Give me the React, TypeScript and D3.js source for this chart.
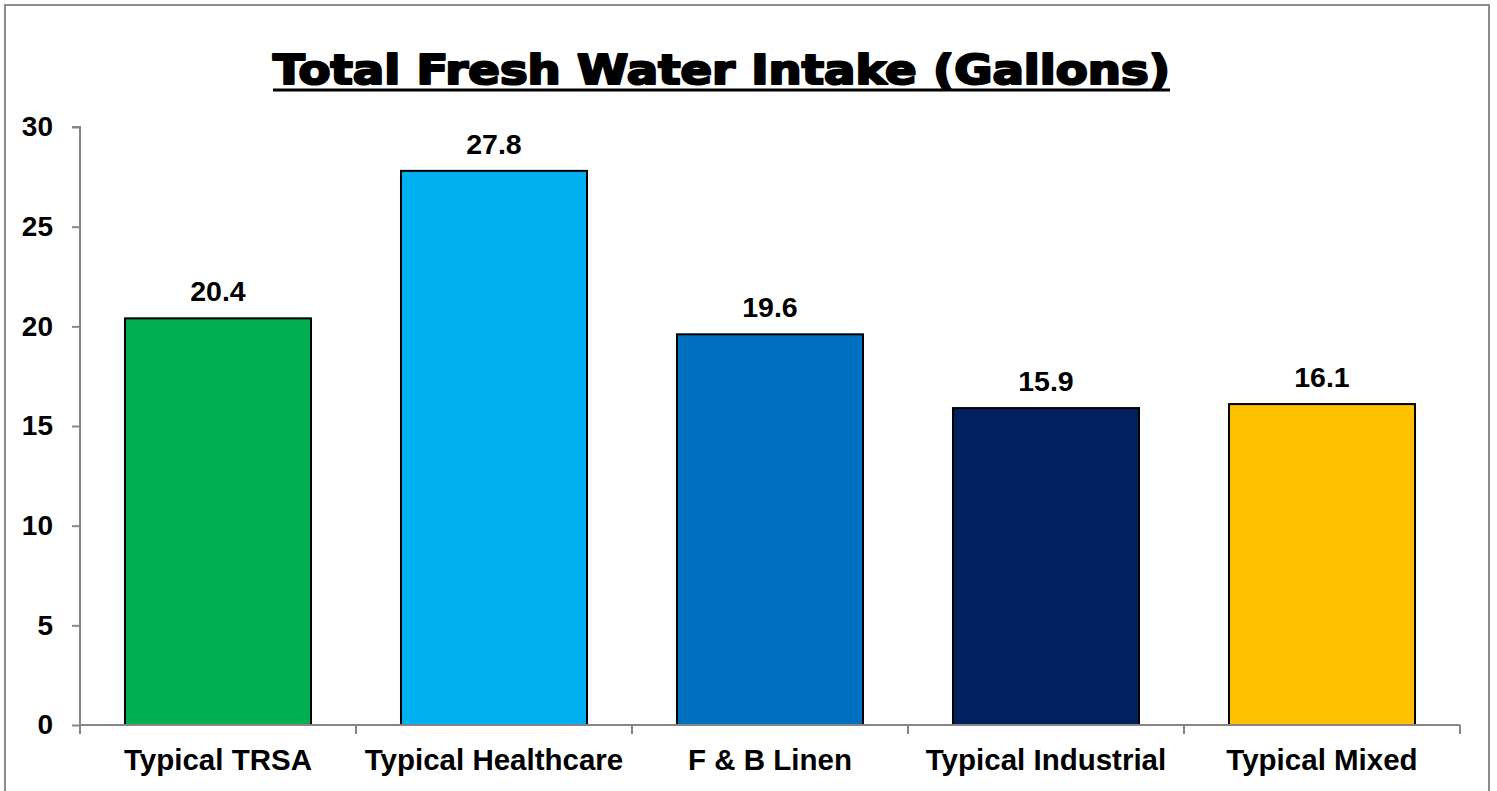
import { useRef, useEffect } from "react";
import * as d3 from "d3";

const categories = ["Typical TRSA", "Typical Healthcare", "F & B Linen", "Typical Industrial", "Typical Mixed"];
const values = [20.4, 27.8, 19.6, 15.9, 16.1];
const colors = ["#00B050", "#00B0F0", "#0070C0", "#002060", "#FFC000"];
const yTicks = [0, 5, 10, 15, 20, 25, 30];
const title = "Total Fresh Water Intake (Gallons)";

const WIDTH = 1497;
const HEIGHT = 791;
const PLOT = { left: 80, right: 1460, top: 127, bottom: 725 };
const FONT = "Liberation Sans, Arial, sans-serif";
const AXIS_COLOR = "#868686";

export default function App() {
  const svgRef = useRef<SVGSVGElement>(null);

  useEffect(() => {
    const svg = d3.select(svgRef.current);
    svg.selectAll("*").remove();

    // chart frame
    svg.append("rect")
      .attr("x", 5).attr("y", 5)
      .attr("width", 1484).attr("height", 800)
      .attr("fill", "#fff")
      .attr("stroke", "#8c8c8c")
      .attr("stroke-width", 2);

    const x = d3.scaleBand<string>()
      .domain(categories)
      .range([PLOT.left, PLOT.right])
      .paddingInner(0.326)
      .paddingOuter(0.163);

    const y = d3.scaleLinear().domain([0, 30]).range([PLOT.bottom, PLOT.top]);

    // Title, underlined
    svg.append("text")
      .attr("x", 273).attr("y", 84)
      .attr("textLength", 897)
      .attr("lengthAdjust", "spacingAndGlyphs")
      .attr("font-family", "DejaVu Sans, sans-serif")
      .attr("font-weight", "bold")
      .attr("font-size", 40)
      .attr("fill", "#000")
      .attr("stroke", "#000")
      .attr("stroke-width", 2.2)
      .attr("stroke-linejoin", "round")
      .text(title);
    svg.append("line")
      .attr("x1", 273).attr("x2", 1170)
      .attr("y1", 90).attr("y2", 90)
      .attr("stroke", "#000").attr("stroke-width", 3);

    // Y axis
    svg.append("g")
      .attr("transform", `translate(${PLOT.left},0)`)
      .call(d3.axisLeft(y).tickValues(yTicks).tickSize(8).tickPadding(19).tickFormat(d3.format("d")))
      .call((a) => a.select(".domain").attr("stroke", AXIS_COLOR).attr("stroke-width", 2)
        .attr("d", `M-8,${PLOT.top}H0V${PLOT.bottom}`))
      .call((a) => a.selectAll("line").attr("stroke", AXIS_COLOR).attr("stroke-width", 2))
      .call((a) => a.selectAll("text")
        .attr("fill", "#000")
        .attr("font-family", FONT)
        .attr("font-weight", "bold")
        .attr("font-size", 28));

    // Bars
    svg.append("g")
      .selectAll("rect")
      .data(values)
      .join("rect")
      .attr("x", (_, i) => x(categories[i])!)
      .attr("y", (d) => y(d))
      .attr("width", x.bandwidth())
      .attr("height", (d) => y(0) - y(d))
      .attr("fill", (_, i) => colors[i])
      .attr("stroke", "#000")
      .attr("stroke-width", 2);

    // X axis
    const boundaries = categories.map((c) => x(c)! - (x.step() - x.bandwidth()) / 2).concat([PLOT.right]);
    const xa = svg.append("g");
    xa.append("line")
      .attr("x1", PLOT.left).attr("x2", PLOT.right)
      .attr("y1", y(0)).attr("y2", y(0))
      .attr("stroke", AXIS_COLOR).attr("stroke-width", 2);
    xa.selectAll("line.tick")
      .data(boundaries)
      .join("line")
      .attr("class", "tick")
      .attr("x1", (d) => d).attr("x2", (d) => d)
      .attr("y1", y(0)).attr("y2", y(0) + 9)
      .attr("stroke", AXIS_COLOR).attr("stroke-width", 2);
    xa.selectAll("text")
      .data(categories)
      .join("text")
      .attr("x", (d) => x(d)! + x.bandwidth() / 2)
      .attr("y", 770)
      .attr("text-anchor", "middle")
      .attr("font-family", FONT)
      .attr("font-weight", "bold")
      .attr("font-size", 29.5)
      .text((d) => d);

    // Data labels
    svg.append("g")
      .selectAll("text")
      .data(values)
      .join("text")
      .attr("x", (_, i) => x(categories[i])! + x.bandwidth() / 2)
      .attr("y", (d) => y(d) - 17)
      .attr("text-anchor", "middle")
      .attr("font-family", FONT)
      .attr("font-weight", "bold")
      .attr("font-size", 28.5)
      .text((d) => d.toFixed(1));
  }, []);

  return (
    <svg
      ref={svgRef}
      width={WIDTH}
      height={HEIGHT}
      style={{ position: "absolute", left: 0, top: 0, display: "block" }}
    />
  );
}
